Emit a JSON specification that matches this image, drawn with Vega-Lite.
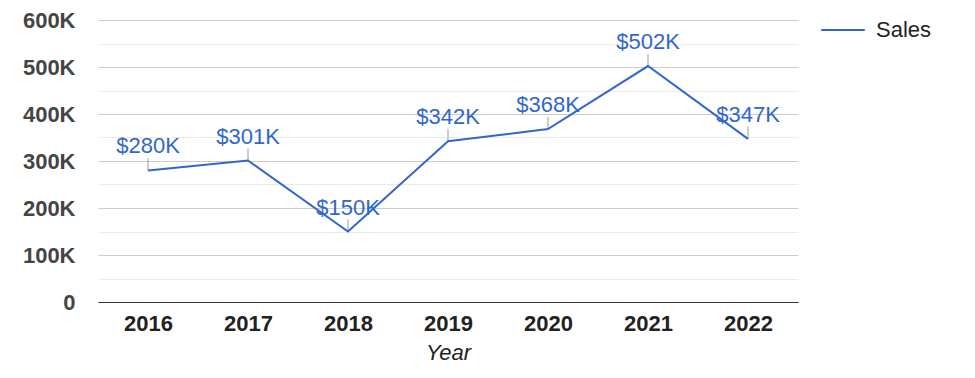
{
  "$schema": "https://vega.github.io/schema/vega-lite/v6.json",
  "width": 700,
  "height": 282,
  "autosize": {"type": "none"},
  "padding": {"left": 98, "top": 20, "right": 177, "bottom": 76},
  "background": "white",
  "config": {"view": {"stroke": null}, "font": "Liberation Sans"},
  "data": {
    "values": [
      {"year": "2016", "sales": 280000, "label": "$280K", "series": "Sales"},
      {"year": "2017", "sales": 301000, "label": "$301K", "series": "Sales"},
      {"year": "2018", "sales": 150000, "label": "$150K", "series": "Sales"},
      {"year": "2019", "sales": 342000, "label": "$342K", "series": "Sales"},
      {"year": "2020", "sales": 368000, "label": "$368K", "series": "Sales"},
      {"year": "2021", "sales": 502000, "label": "$502K", "series": "Sales"},
      {"year": "2022", "sales": 347000, "label": "$347K", "series": "Sales"}
    ]
  },
  "encoding": {
    "x": {
      "field": "year",
      "type": "ordinal",
      "scale": {"type": "point", "padding": 0.5},
      "axis": {
        "title": "Year",
        "labelAngle": 0,
        "labelFontSize": 22,
        "labelFontWeight": "bold",
        "labelColor": "#222222",
        "ticks": false,
        "domainColor": "#333333",
        "labelPadding": 11,
        "titleFontSize": 22,
        "titleFontStyle": "italic",
        "titleFontWeight": "normal",
        "titleColor": "#222222",
        "titlePadding": 8,
        "grid": false,
        "zindex": 1
      }
    },
    "y": {
      "field": "sales",
      "type": "quantitative",
      "scale": {"domain": [0, 600000]},
      "axis": {
        "values": [0, 50000, 100000, 150000, 200000, 250000, 300000, 350000, 400000, 450000, 500000, 550000, 600000],
        "domain": false,
        "ticks": false,
        "title": null,
        "labelPadding": 23,
        "labelFontSize": 22,
        "labelFontWeight": "bold",
        "labelColor": "#444444",
        "labelExpr": "datum.value % 100000 === 0 ? (datum.value == 0 ? '0' : (datum.value / 1000) + 'K') : ''",
        "gridColor": {"condition": {"test": "datum.value % 100000 === 0", "value": "#cccccc"}, "value": "#ebebeb"},
        "zindex": 0
      }
    }
  },
  "layer": [
    {
      "mark": {"type": "rule", "color": "#999999", "y2Offset": -12},
      "encoding": {"y2": {"field": "sales"}}
    },
    {
      "mark": {"type": "line", "strokeWidth": 2},
      "encoding": {
        "color": {
          "field": "series",
          "type": "nominal",
          "scale": {"range": ["#3366cc"]},
          "legend": {
            "orient": "none",
            "legendX": 722,
            "legendY": -13,
            "title": null,
            "symbolType": "stroke",
            "symbolSize": 1900,
            "symbolStrokeWidth": 2,
            "labelFontSize": 22,
            "labelColor": "#222222",
            "labelOffset": 10
          }
        }
      }
    },
    {
      "mark": {"type": "text", "yOffset": -24, "fontSize": 22, "color": "#3366cc", "baseline": "middle"},
      "encoding": {"text": {"field": "label"}}
    }
  ]
}
